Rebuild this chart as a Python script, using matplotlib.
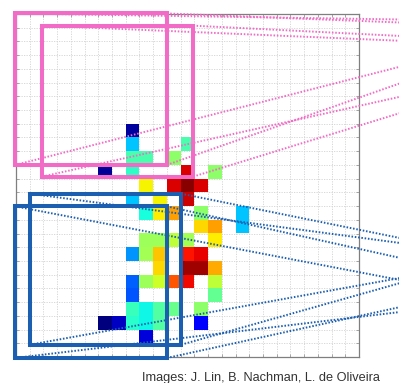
import numpy as np
import matplotlib
matplotlib.use("Agg")
import matplotlib.pyplot as plt
from matplotlib.patches import Rectangle

N_PIX = 25

# non-empty pixels of the jet image: row (from top), column, intensity (jet scale)
cell_row = [8,
            9, 9,
            10, 10, 10,
            11, 11, 11, 11,
            12, 12, 12, 12,
            13, 13, 13,
            14, 14, 14, 14, 14,
            15, 15, 15,
            16, 16, 16, 16, 16,
            17, 17, 17, 17, 17,
            18, 18, 18, 18,
            19, 19, 19, 19, 19, 19,
            20, 20,
            21, 21, 21, 21, 21,
            22, 22, 22, 22, 22, 22,
            23]
cell_col = [8,
            8, 12,
            8, 9, 11,
            6, 8, 12, 14,
            9, 11, 12, 13,
            8, 10, 12,
            9, 10, 11, 13, 16,
            13, 14, 16,
            9, 10, 11, 12, 14,
            8, 9, 10, 12, 13,
            10, 12, 13, 14,
            8, 9, 10, 11, 12, 14,
            8, 14,
            8, 9, 10, 11, 13,
            6, 7, 8, 9, 10, 13,
            9]
cell_val = [0.03,
            0.32, 0.44,
            0.44, 0.44, 0.52,
            0.02, 0.41, 0.92, 0.52,
            0.65, 0.92, 0.99, 0.92,
            0.32, 0.65, 0.93,
            0.38, 0.66, 0.74, 0.52, 0.32,
            0.68, 0.74, 0.32,
            0.54, 0.54, 0.58, 0.55, 0.66,
            0.27, 0.55, 0.70, 0.89, 0.91,
            0.68, 0.97, 0.97, 0.73,
            0.22, 0.54, 0.60, 0.82, 0.90, 0.58,
            0.21, 0.47,
            0.42, 0.37, 0.45, 0.48, 0.52,
            0.00, 0.06, 0.40, 0.37, 0.45, 0.12,
            0.08]

# filter windows: (left, top, size) in pixel units
pink_boxes = [(-0.04, -0.04, 11.04), (1.92, 0.85, 11.0)]
blue_boxes = [(1.05, 13.1, 11.0), (-0.05, 14.02, 11.05)]

# where the corner lines leave the picture on the right: (tl, tr, bl, br) rows
line_end_x = 28.0
pink_ends = [(0.40, 0.62, 3.84, 5.05), (1.95, 1.60, 6.03, 7.22)]
blue_ends = [(16.69, 16.33, 19.24, 19.61), (19.39, 17.78, 21.72, 21.36)]

PINK = "#f26bc6"
BLUE = "#1c5fb0"

img = np.full((N_PIX, N_PIX), np.nan)
for r, c, v in zip(cell_row, cell_col, cell_val):
    img[r, c] = v

fig = plt.figure(figsize=(3.99, 3.83), dpi=100)
ax = fig.add_axes([16 / 399, 26 / 383, 343 / 399, 343 / 383])

cmap = plt.get_cmap("jet").copy()
cmap.set_bad((1, 1, 1, 0))
ax.imshow(np.ma.masked_invalid(img), cmap=cmap, vmin=0, vmax=1,
          extent=(0, N_PIX, N_PIX, 0), interpolation="nearest", zorder=1)

ax.set_xlim(0, N_PIX)
ax.set_ylim(N_PIX, 0)
ax.set_xticks(range(N_PIX + 1))
ax.set_yticks(range(N_PIX + 1))
ax.set_xticklabels([])
ax.set_yticklabels([])
ax.tick_params(direction="in", length=2, width=0.6, color="#999999",
               top=True, right=True)
ax.set_axisbelow(True)
ax.grid(True, color="#d2d2d2", linestyle=(0, (1.5, 1.5)), linewidth=0.6)
for sp in ax.spines.values():
    sp.set_color("#7f7f7f")
    sp.set_linewidth(0.9)


def draw_window(box, ends, color):
    x0, y0, s = box
    ax.add_patch(Rectangle((x0, y0), s, s, fill=False, edgecolor=color,
                           linewidth=2.9, zorder=4, clip_on=False))
    corners = [(x0, y0), (x0 + s, y0), (x0, y0 + s), (x0 + s, y0 + s)]
    for (cx, cy), ey in zip(corners, ends):
        ax.plot([cx, line_end_x], [cy, ey], color=color, linewidth=1.4,
                linestyle=(0, (0.8, 0.9)), zorder=5, clip_on=False)


for box, ends in zip(pink_boxes, pink_ends):
    draw_window(box, ends, PINK)
for box, ends in zip(blue_boxes, blue_ends):
    draw_window(box, ends, BLUE)

fig.text(0.653, 0.014, "Images: J. Lin, B. Nachman, L. de Oliveira",
         ha="center", va="center", fontsize=9.2, color="#333333",
         family="Liberation Sans")

fig.savefig("out.png", dpi=100)
